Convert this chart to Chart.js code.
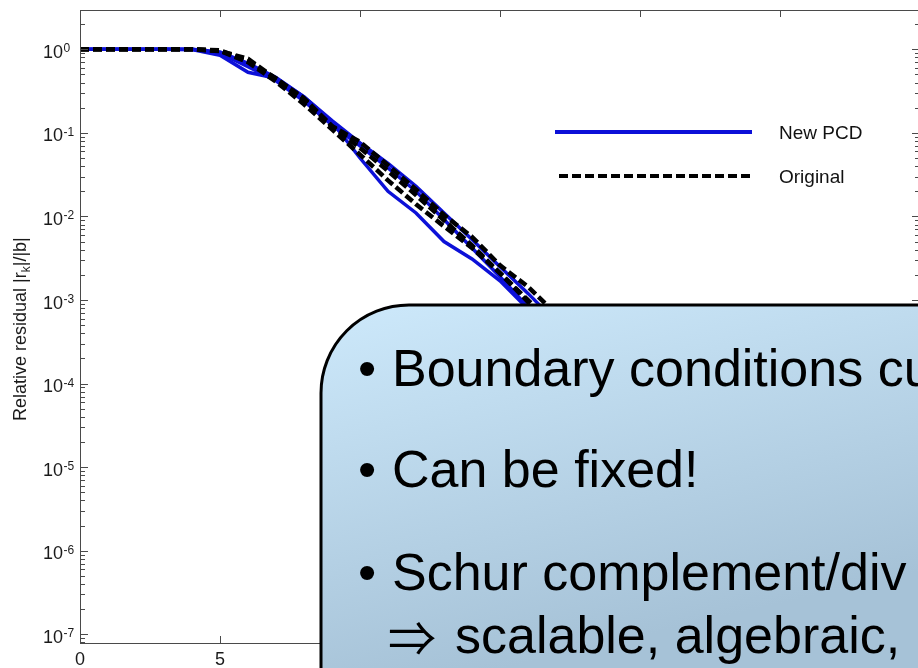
<!DOCTYPE html>
<html>
<head>
<meta charset="utf-8">
<title>Relative residual</title>
<script src="https://cdn.jsdelivr.net/npm/chart.js@4.4.1/dist/chart.umd.min.js"></script>
<style>
html,body{margin:0;padding:0;background:#fff;overflow:hidden;}
#wrap{position:relative;width:920px;height:668px;}
</style>
</head>
<body>
<div id="wrap"><canvas id="residualChart" width="920" height="668"></canvas></div>
<script>
//__________ data __________//
var iterations = [0,1,2,3,4,5,6,7,8,9,10,11,12,13,14,15,16,17,18,19,20];

// New PCD runs (blue, solid)
var newPcdA = [1,1,1,1,0.99,0.85,0.53,0.45,0.27,0.135,0.05,0.02,0.011,0.005,0.0031,0.0017,0.00078,0.00035,0.00015,6.5e-5,2.8e-5];
var newPcdB = [1,1,1,1,1,0.9,0.62,0.42,0.24,0.125,0.07,0.038,0.02,0.0092,0.0042,0.0019,0.00082,0.00036,0.00016,7e-5,3e-5];
var newPcdC = [1,1,1,1,1,0.93,0.68,0.46,0.27,0.14,0.076,0.043,0.023,0.011,0.0053,0.0025,0.0012,0.00055,0.00025,0.00011,5e-5];

// Original runs (black, dashed)
var originalA = [1,1,1,1,1,0.95,0.77,0.44,0.26,0.12,0.078,0.041,0.021,0.0104,0.0057,0.0026,0.00144,0.00068,0.0003,0.00013,6e-5];
var originalB = [1,1,1,1,1,0.97,0.72,0.45,0.25,0.12,0.066,0.035,0.018,0.009,0.0045,0.0021,0.00095,0.00042,0.00019,8e-5,3.5e-5];
var originalC = [1,1,1,1,1,0.96,0.7,0.41,0.22,0.11,0.055,0.027,0.014,0.0076,0.0042,0.0021,0.001,0.00046,0.0002,9e-5,4e-5];

var xTicks = [0,5,10,15,20,25,30];
var yDecades = [0,-1,-2,-3,-4,-5,-6,-7];
var legendLabels = ['New PCD','Original'];
var yTitle = ['Relative residual |r','k','|/|b|'];
var bulletLines = ['Boundary conditions cu','Can be fixed!','Schur complement/div'];
var wrapLine = ['\u21D2','scalable, algebraic,'];

var BLUE = '#0c10d8';
var FONT = '"Liberation Sans", Arial, sans-serif';

function toPoints(ys){
    var pts = [];
    for(var i=0;i<iterations.length;i++){
        pts.push({x:iterations[i], y:ys[i]});
    }
    return pts;
}
function blueSet(label, ys){
    return {label:label, data:toPoints(ys), borderColor:BLUE, borderWidth:3.5, pointRadius:0, tension:0, order:1};
}
function dashSet(label, ys){
    return {label:label, data:toPoints(ys), borderColor:'#000', borderWidth:4.5, borderDash:[9,4], pointRadius:0, tension:0, order:0};
}

//__________ white page __________//
var whiteBg = {
    id:'whiteBg',
    beforeDraw:function(chart){
        var c = chart.ctx;
        c.save();
        c.fillStyle = '#fff';
        c.fillRect(0,0,chart.width,chart.height);
        c.restore();
    }
};

//__________ matlab style frame, ticks, labels, legend __________//
var matlabAxes = {
    id:'matlabAxes',
    afterDatasetsDraw:function(chart){
        var c = chart.ctx;
        var a = chart.chartArea;
        var xs = chart.scales.x;
        var ys = chart.scales.y;
        c.save();
        c.strokeStyle = '#4a4a4a';
        c.lineWidth = 1;
        c.strokeRect(a.left+0.5, a.top+0.5, a.right-a.left, a.bottom-a.top);

        // x ticks top + bottom
        c.beginPath();
        for(var i=0;i<xTicks.length;i++){
            var px = Math.round(xs.getPixelForValue(xTicks[i]))+0.5;
            c.moveTo(px, a.bottom); c.lineTo(px, a.bottom-7);
            c.moveTo(px, a.top); c.lineTo(px, a.top+7);
        }
        // y ticks left + right, major and minor
        for(var d=1;d>=-8;d--){
            for(var m=1;m<10;m++){
                var v = m*Math.pow(10,d);
                if(v<ys.min || v>ys.max) continue;
                var py = Math.round(ys.getPixelForValue(v))+0.5;
                var len = (m==1) ? 8 : 5;
                c.moveTo(a.left, py); c.lineTo(a.left+len, py);
                c.moveTo(a.right, py); c.lineTo(a.right-len, py);
            }
        }
        c.stroke();

        // tick labels
        c.fillStyle = '#1a1a1a';
        c.textBaseline = 'alphabetic';
        c.font = '18px '+FONT;
        c.textAlign = 'center';
        for(var i=0;i<xTicks.length;i++){
            c.fillText(String(xTicks[i]), xs.getPixelForValue(xTicks[i]), a.bottom+22);
        }
        c.textAlign = 'left';
        for(var k=0;k<yDecades.length;k++){
            var py = ys.getPixelForValue(Math.pow(10,yDecades[k]));
            c.font = '18px '+FONT;
            c.fillText('10', 43, py+8.5);
            c.font = '12px '+FONT;
            c.fillText(yDecades[k]==0 ? '0' : '-'+(-yDecades[k]), 63.5, py+3);
        }

        // y axis title with subscript k
        c.save();
        c.translate(26, 421);
        c.rotate(-Math.PI/2);
        c.font = '18px '+FONT;
        c.fillText(yTitle[0], 0, 0);
        var w = c.measureText(yTitle[0]).width;
        c.font = '12px '+FONT;
        c.fillText(yTitle[1], w, 4);
        w += c.measureText(yTitle[1]).width;
        c.font = '18px '+FONT;
        c.fillText(yTitle[2], w, 0);
        c.restore();

        // legend, one entry per series group
        var entries = [chart.data.datasets[0], chart.data.datasets[3]];
        var rows = [132, 176];
        for(var j=0;j<entries.length;j++){
            var ds = entries[j];
            c.beginPath();
            c.strokeStyle = ds.borderColor;
            c.lineWidth = 4;
            c.setLineDash(ds.borderDash || []);
            c.moveTo(j==0 ? 555 : 559, rows[j]);
            c.lineTo(752, rows[j]);
            c.stroke();
            c.setLineDash([]);
            c.fillStyle = '#111';
            c.font = '19px '+FONT;
            c.fillText(legendLabels[j], 779, rows[j]+7);
        }
        c.restore();
    }
};

//__________ callout box drawn over the plot __________//
var callout = {
    id:'callout',
    afterDraw:function(chart){
        var c = chart.ctx;
        var L = 321, T = 305, R = 940, B = 700, r = 88;
        c.save();
        // mostly top-to-bottom fade, light blue to grey blue
        var g = c.createLinearGradient(L, T, L+90, 690);
        g.addColorStop(0, '#cde9fb');
        g.addColorStop(1, '#a6c2d7');
        c.beginPath();
        c.moveTo(L, B);
        c.lineTo(L, T+r);
        c.arcTo(L, T, L+r, T, r);
        c.lineTo(R, T);
        c.lineTo(R, B);
        c.closePath();
        c.fillStyle = g;
        c.fill();
        c.lineWidth = 3;
        c.strokeStyle = '#000';
        c.stroke();

        c.fillStyle = '#000';
        c.textBaseline = 'alphabetic';
        var bases = [386, 487, 590];
        for(var i=0;i<bulletLines.length;i++){
            c.font = '52px '+FONT;
            c.textAlign = 'center';
            c.fillText('\u2022', 367, bases[i]);
            c.textAlign = 'left';
            c.fillText(bulletLines[i], 392, bases[i]);
        }
        c.font = '48px "Noto Sans CJK JP", "DejaVu Sans", sans-serif';
        c.fillText(wrapLine[0], 388, 656);
        c.font = '52px '+FONT;
        c.fillText(wrapLine[1], 455, 653);
        c.restore();
    }
};

window.addEventListener('load', function(){
    var ctx = document.getElementById('residualChart').getContext('2d');
    new Chart(ctx, {
        type:'line',
        data:{
            datasets:[
                blueSet(legendLabels[0], newPcdA),
                blueSet(legendLabels[0], newPcdB),
                blueSet(legendLabels[0], newPcdC),
                dashSet(legendLabels[1], originalA),
                dashSet(legendLabels[1], originalB),
                dashSet(legendLabels[1], originalC)
            ]
        },
        options:{
            responsive:false,
            animation:false,
            devicePixelRatio:1,
            layout:{padding:{left:80, top:10, right:0, bottom:25}},
            scales:{
                x:{type:'linear', min:0, max:30, display:false},
                y:{type:'logarithmic', min:Math.pow(10,-7.104), max:Math.pow(10,0.47), display:false}
            },
            plugins:{legend:{display:false}, tooltip:{enabled:false}}
        },
        plugins:[whiteBg, matlabAxes, callout]
    });
});
</script>
</body>
</html>
